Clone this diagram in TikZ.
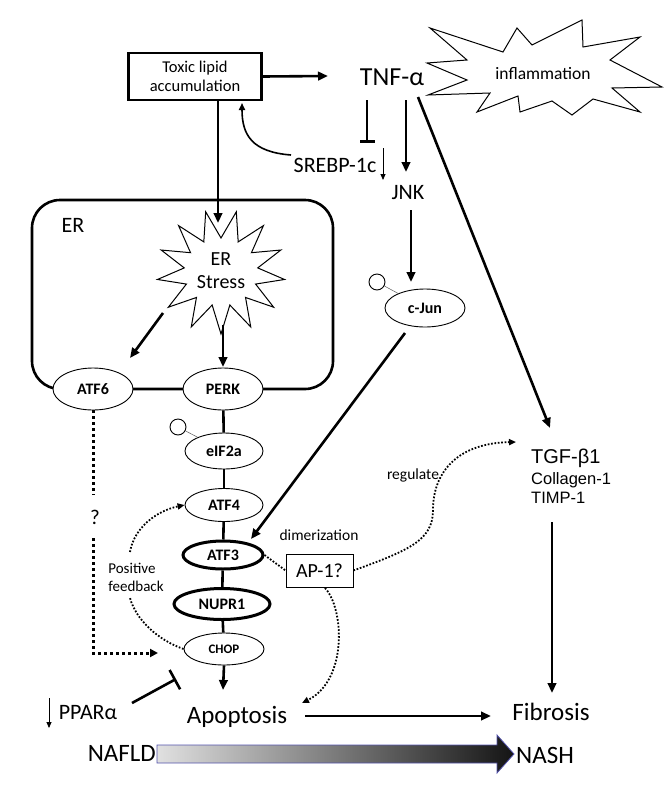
\documentclass[tikz,border=0pt]{standalone}
\usepackage{fontspec}
\setmainfont{Carlito}
\newfontfamily\arialf{Liberation Sans}
\usetikzlibrary{shapes.geometric,arrows.meta,calc}
\newcommand\fsz[2]{\fontsize{#1}{#2}\selectfont}
\begin{document}
\begin{tikzpicture}[x=1pt,y=-1pt,
  tipA/.style={-{Triangle[length=10pt,width=8.5pt]}},
  tipS/.style={-{Triangle[length=7pt,width=6pt]}},
  heavy/.style={line width=2.6pt},
  ov/.style={ellipse,draw,fill=white,line width=0.9pt,font=\fsz{16}{18}\bfseries,inner sep=0pt},
  ovthick/.style={ov,line width=3pt},
  dots/.style={line width=1.8pt,dash pattern=on 1.7pt off 1.7pt},
  bigdots/.style={line width=3pt,dash pattern=on 3pt off 3pt},
  lbl/.style={inner sep=0pt},
  starline/.style={line width=1pt,fill=white},
]
\useasboundingbox (0,0) rectangle (667,785);

% ---------- ER compartment ----------
\draw[heavy,rounded corners=28pt] (32,200) rectangle (333,389);
\node[lbl,font=\fsz{22}{24}] (erlabel) at (73,225) {ER};

% ---------- starbursts ----------
\draw[starline] (430,28) -- (503,52) -- (517,28) -- (532,45) -- (582,20) -- (583,47)
  -- (640,37) -- (610,60) -- (662,87) -- (612,88) -- (640,112) -- (593,99)
  -- (572,115) -- (552,101) -- (520,112) -- (518,96) -- (477,112) -- (490,93)
  -- (428,95) -- (467,80) -- (427,63) -- (467,60) -- cycle;
\node[lbl,font=\fsz{17.5}{20}] (infl) at (543,74) {inflammation};

\draw[starline] plot[samples at={0,...,25},variable=\k]
  ({221+ifthenelse(mod(\k,2)==0,64,37)*cos(\k*360/26+90)},
   {272+ifthenelse(mod(\k,2)==0,62,34)*sin(\k*360/26+90)}) -- cycle;
\node[lbl,align=center,font=\fsz{20}{23}] (ers) at (221,271) {ER\\Stress};

% ---------- top nodes ----------
\node[draw,heavy,minimum width=133pt,minimum height=47pt,align=center,
      font=\fsz{16.5}{19},inner sep=0pt] (toxic) at (195,76.5) {Toxic lipid\\accumulation};
\node[lbl,font=\fsz{26}{28}] (tnf) at (392,77) {TNF-α};
\node[lbl,font=\fsz{22}{24}] (srebp) at (335,165) {SREBP-1c};
\node[lbl,font=\fsz{22}{24}] (jnk) at (408,193) {JNK};
\node[ov,minimum width=80pt,minimum height=38pt] (cjun) at (425,308) {c-Jun};
\node[circle,draw,line width=0.9pt,minimum size=16pt,inner sep=0pt] (pc1) at (377,282) {};

% ---------- UPR chain ----------
\node[ov,minimum width=80pt,minimum height=42pt] (atf6) at (93,389) {ATF6};
\node[ov,minimum width=80pt,minimum height=42pt] (perk) at (223,389) {PERK};
\node[ov,minimum width=78pt,minimum height=36pt] (eif) at (224,451) {eIF2a};
\node[circle,draw,line width=0.9pt,minimum size=16pt,inner sep=0pt] (pc2) at (178,427) {};
\node[ov,minimum width=78pt,minimum height=33pt] (atf4) at (224,505) {ATF4};
\node[ovthick,minimum width=80pt,minimum height=28pt] (atf3) at (223,555) {ATF3};
\node[ovthick,minimum width=96pt,minimum height=31pt] (nupr) at (222,604) {NUPR1};
\node[ov,minimum width=80pt,minimum height=32pt,font=\fsz{13}{15}\bfseries] (chop) at (224,649) {CHOP};

\draw[heavy] (perk) -- (eif);
\draw[heavy] (eif) -- (atf4);
\draw[heavy] (atf4) -- (atf3);
\draw[heavy] (atf3) -- (nupr);
\draw[heavy] (nupr) -- (chop);
\draw[line width=0.5pt,gray!70!black] (pc2) -- (eif);
\draw[line width=0.5pt,gray!70!black] (pc1) -- (cjun);

% ---------- other labels ----------
\node[lbl,font=\fsz{25}{28}] (apop) at (237,717) {Apoptosis};
\node[lbl,font=\fsz{25}{28}] (fib) at (551,712) {Fibrosis};
\node[lbl,anchor=west,font=\arialf\fsz{20}{22}] (tgf) at (531,458) {TGF-β1};
\node[lbl,anchor=west,font=\arialf\fsz{16.5}{18}] (col) at (531,480) {Collagen-1};
\node[lbl,anchor=west,font=\arialf\fsz{16.5}{18}] (timp) at (531,498) {TIMP-1};
\node[lbl,font=\fsz{22}{25}] (ppar) at (88,713) {PPARα};
\node[draw,line width=0.8pt,minimum width=67pt,minimum height=33pt,inner sep=0pt,
      font=\fsz{20}{22}] (ap1) at (319.5,570.5) {AP-1?};
\node[lbl,font=\fsz{15.5}{17}] (dim) at (319,535) {dimerization};
\node[lbl,font=\fsz{15.5}{17}] (reg) at (413,475) {regulate};
\node[lbl,align=left,font=\fsz{15}{18}] (posfb) at (136,577) {Positive\\feedback};
\node[lbl,font=\fsz{21}{23}] (qm) at (95,517) {?};
\node[lbl,anchor=east,font=\fsz{25}{27}] (nafld) at (156,753) {NAFLD};
\node[lbl,anchor=west,font=\fsz{25}{27}] (nash) at (516,755) {NASH};

% ---------- coordinates for connector ends ----------
\coordinate (tnfin) at (328,76);
\coordinate (ersin) at (218,223);
\coordinate (toxout) at (218,100);
\coordinate (barA) at (367,100);
\coordinate (barB) at (367,143);
\coordinate (jnkA) at (406,100);
\coordinate (jnkB) at (406,172);
\coordinate (srA) at (383,148);
\coordinate (srB) at (383,180);
\coordinate (jA) at (411,210);
\coordinate (jB) at (411,282);
\coordinate (tgfA) at (418,97);
\coordinate (tgfB) at (550,428);
\coordinate (cjA) at (405,333);
\coordinate (cjB) at (251,539);
\coordinate (eA) at (163,313);
\coordinate (eB) at (130,358);
\coordinate (pA) at (223,325);
\coordinate (pB) at (223,367);
\coordinate (fibA) at (552,522);
\coordinate (fibB) at (552,693);
\coordinate (apA) at (305,716);
\coordinate (apB) at (491,716);
\coordinate (chB) at (223,690);
\coordinate (ppA) at (49,698);
\coordinate (ppB) at (49,728);
\coordinate (tbA) at (132,703);
\coordinate (tbB) at (176,679);
\coordinate (q1) at (93,495);
\coordinate (q2) at (93,538);
\coordinate (q3) at (93,653);
\coordinate (q4) at (158,653);
\coordinate (srcurve) at (291,155);

% ---------- connectors ----------
\draw[heavy,tipA] (toxic.east) -- (tnfin);
\draw[heavy,tipA] (toxout) -- (ersin);
\draw[heavy,-{Bar[width=15pt]}] (barA) -- (barB);
\draw[heavy,tipA] (jnkA) -- (jnkB);
\draw[line width=0.8pt,-{Triangle[length=6pt,width=5pt]}] (srA) -- (srB);
\draw[line width=1.6pt,tipS] (srcurve) .. controls (252,152) and (242,135) .. (242,103);
\draw[heavy,tipA] (jA) -- (jB);
\draw[heavy,tipA] (tgfA) -- (tgfB);
\draw[heavy,tipA] (cjA) -- (cjB);
\draw[heavy,tipA] (eA) -- (eB);
\draw[heavy,tipA] (pA) -- (pB);
\draw[heavy,tipA] (fibA) -- (fibB);
\draw[heavy,tipA] (apA) -- (apB);
\draw[heavy,tipA] (chop.south) -- (chB);
\draw[line width=0.8pt,-{Triangle[length=6pt,width=5pt]}] (ppA) -- (ppB);
\draw[heavy,-{Bar[width=22pt]}] (tbA) -- (tbB);

% dotted
\draw[bigdots] (atf6.south) -- (q1);
\draw[bigdots,-{Triangle[length=8pt,width=8pt]}] (q2) -- (q3) -- (q4);
\draw[dots,tipS] (130,552) .. controls (134,528) and (156,511) .. (atf4.west);
\draw[dots] (chop.west) .. controls (158,640) and (136,620) .. (130,598);
\draw[dots] (atf3.east) -- (ap1.west);
\draw[dots,tipS] (325,588) .. controls (344,608) and (348,680) .. (302,703);
\draw[dots,tipS] (ap1.east) .. controls (410,550) and (433,540) .. (433,510)
   .. controls (433,470) and (460,443) .. (516,442);

% ---------- NAFLD -> NASH gradient arrow ----------
\shade[left color=black!12,right color=black!92,draw=blue!35!gray,line width=0.8pt]
  (157,745) -- (497,745) -- (497,735) -- (514,754) -- (497,773) -- (497,763) -- (157,763) -- cycle;
\end{tikzpicture}
\end{document}
